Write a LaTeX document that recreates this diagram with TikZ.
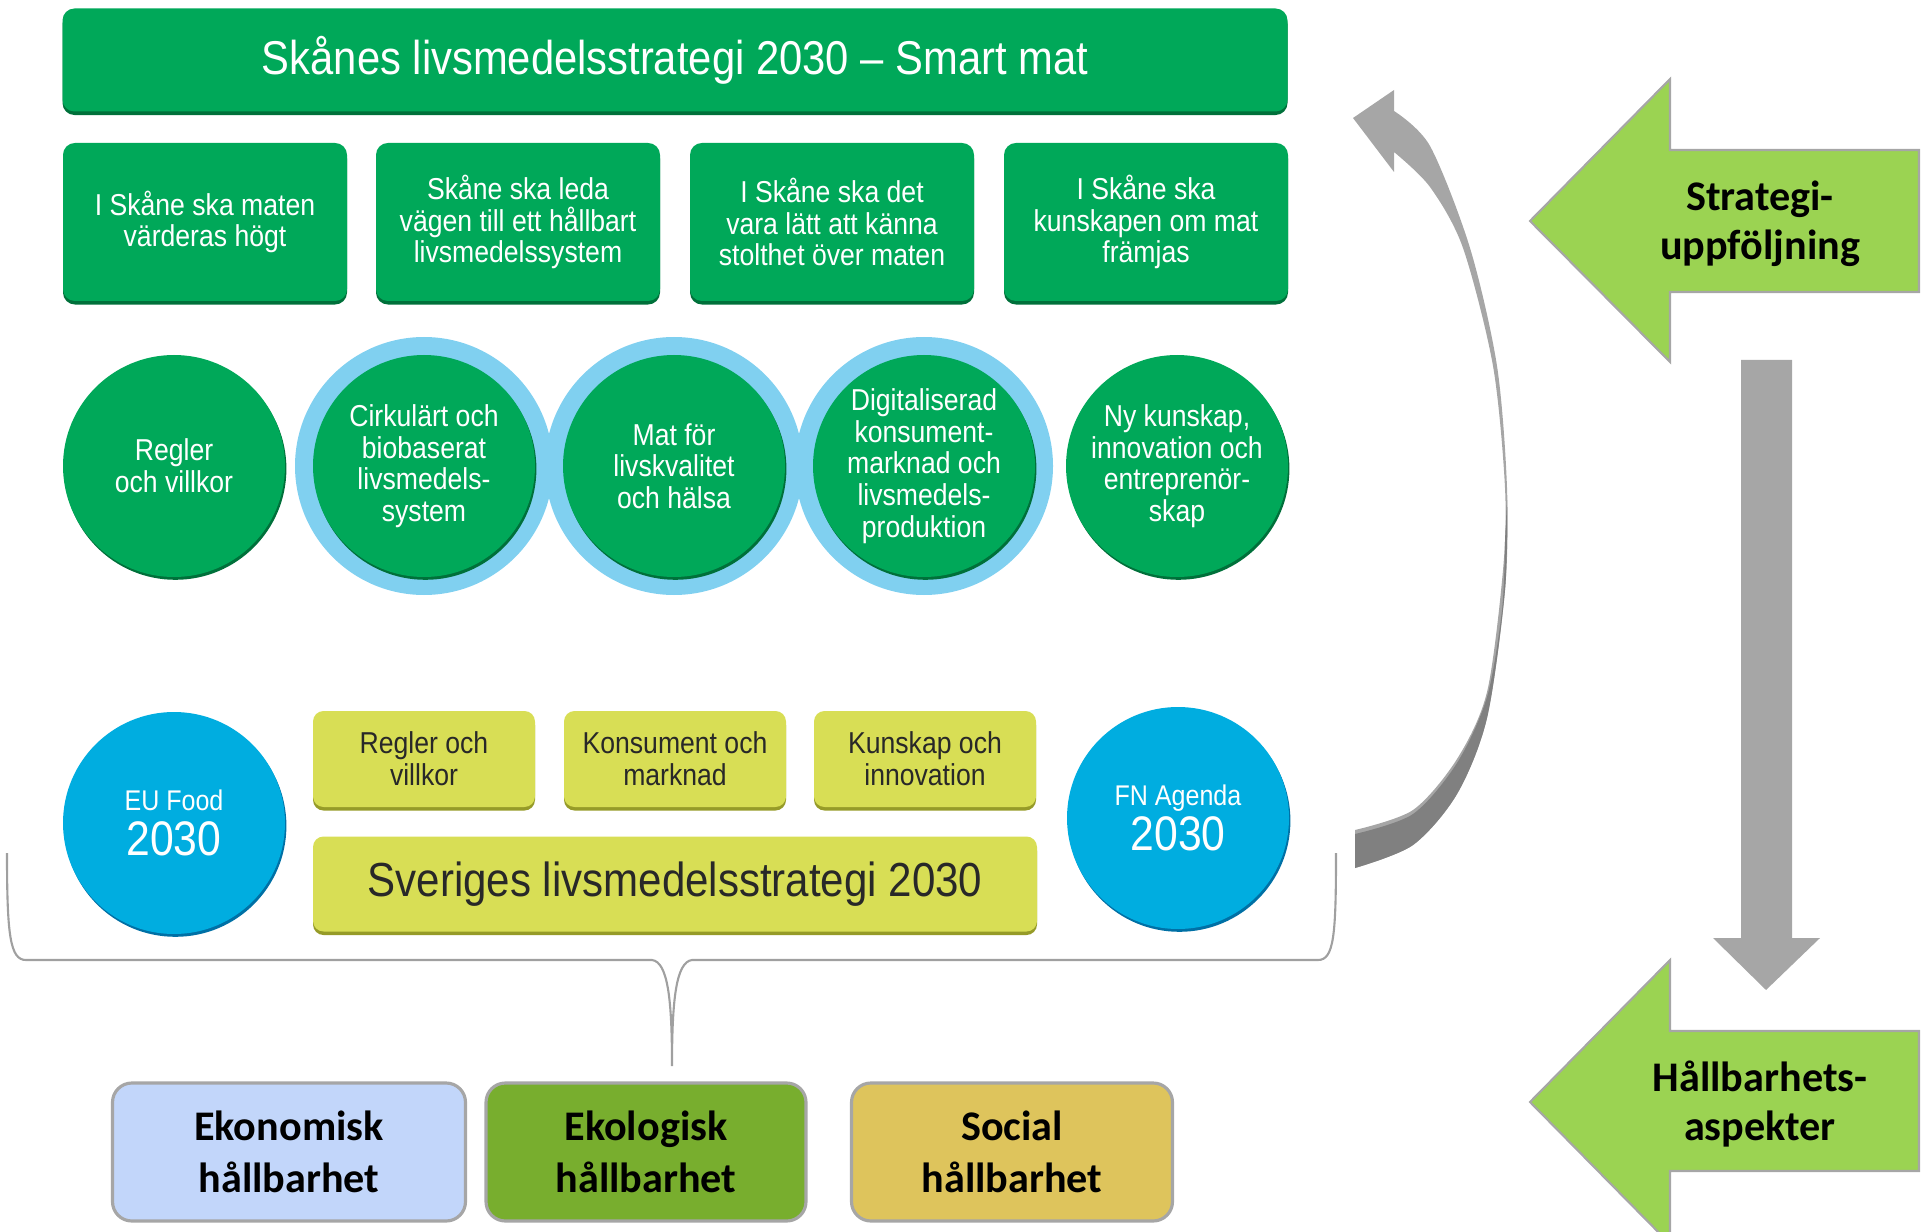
\documentclass[tikz,border=0pt]{standalone}
\usepackage{fontspec}
\setmainfont{Liberation Sans}
\newfontfamily\cond[FakeStretch=0.88]{Liberation Sans}
\newfontfamily\cali{Carlito}
\usetikzlibrary{shadows}
\definecolor{skgreen}{RGB}{0,168,89}
\definecolor{skgreendark}{RGB}{0,112,58}
\definecolor{ringblue}{RGB}{128,208,240}
\definecolor{eublue}{RGB}{0,173,224}
\definecolor{eubluedark}{RGB}{0,112,165}
\definecolor{sveyellow}{RGB}{216,222,85}
\definecolor{sveyellowdark}{RGB}{150,155,40}
\definecolor{ytext}{RGB}{40,40,40}
\definecolor{arrowgreen}{RGB}{155,211,82}
\definecolor{arrowgray}{RGB}{166,166,166}
\definecolor{arrowdark}{RGB}{128,128,128}
\definecolor{bracegray}{RGB}{160,160,160}
\definecolor{ekoblue}{RGB}{194,214,250}
\definecolor{ekogreen}{RGB}{120,174,46}
\definecolor{socyellow}{RGB}{222,196,92}
\begin{document}
\begin{tikzpicture}[x=0.1mm,y=-0.1mm,
  gbox/.style={fill=skgreen,rounded corners=3.4pt,inner sep=0pt,align=center,text=white,
    font=\cond\fontsize{8.6}{9}\selectfont,
    drop shadow={shadow xshift=0pt,shadow yshift=-1pt,fill=skgreendark,opacity=1}},
  gcirc/.style={circle,fill=skgreen,minimum size=22.2mm,inner sep=0pt,align=center,text=white,
    font=\cond\fontsize{8.6}{9}\selectfont,
    drop shadow={shadow xshift=0.4pt,shadow yshift=-0.8pt,fill=skgreendark,opacity=1}},
  bcirc/.style={circle,fill=eublue,minimum size=22.2mm,inner sep=0pt,align=center,text=white,
    font=\cond\fontsize{8.1}{13}\selectfont,
    drop shadow={shadow xshift=0.4pt,shadow yshift=-0.8pt,fill=eubluedark,opacity=1}},
  ybox/.style={fill=sveyellow,rounded corners=3pt,inner sep=0pt,align=center,text=ytext,
    font=\cond\fontsize{8.6}{9}\selectfont,
    drop shadow={shadow xshift=0pt,shadow yshift=-1pt,fill=sveyellowdark,opacity=1}},
  hbox/.style={draw=arrowgray,line width=0.9pt,rounded corners=5.5pt,minimum height=13.8mm,
    inner sep=0pt,align=center,font=\cali\bfseries\fontsize{12}{14.6}\selectfont},
  blockarrow/.style={fill=arrowgreen,draw=arrowgray,line width=0.6pt},
  arrowtext/.style={align=center,font=\cali\bfseries\fontsize{12}{14}\selectfont}]
\useasboundingbox (0,0) rectangle (1921,1232);

\node[gbox,minimum width=122.5mm,minimum height=10.3mm,font=\cond\fontsize{13.5}{16}\selectfont] (title) at (675,60) {Skånes livsmedelsstrategi 2030 – Smart mat};

\foreach \x/\name/\txt in {205/mal1/{I Skåne ska maten\\värderas högt},518/mal2/{Skåne ska leda\\vägen till ett hållbart\\livsmedelssystem},832/mal3/{I Skåne ska det\\vara lätt att känna\\stolthet över maten},1146/mal4/{I Skåne ska\\kunskapen om mat\\främjas}}
{
    \node[gbox,minimum width=28.4mm,minimum height=15.8mm] (\name) at (\x,222) {\txt};
}

\foreach \x in {424,674,924}
{
    \fill[ringblue] (\x,466) circle[radius=12.9mm];
}
\foreach \x/\name/\txt in {174/omr1/{Regler\\och villkor},424/omr2/{Cirkulärt och\\biobaserat\\livsmedels-\\system},674/omr3/{Mat för\\livskvalitet\\och hälsa},924/omr4/{Digitaliserad\\konsument-\\marknad och\\livsmedels-\\produktion},1177/omr5/{Ny kunskap,\\innovation och\\entreprenör-\\skap}}
{
    \node[gcirc] (\name) at (\x,466) {\txt};
}

\node[bcirc] (eufood) at (174,823) {EU Food\\{\fontsize{13.8}{13}\selectfont 2030}};
\node[bcirc] (fnagenda) at (1178,818) {FN Agenda\\{\fontsize{13.8}{13}\selectfont 2030}};
\foreach \x/\name/\txt in {424/nat1/{Regler och\\villkor},675/nat2/{Konsument och\\marknad},925/nat3/{Kunskap och\\innovation}}
{
    \node[ybox,minimum width=22.2mm,minimum height=9.6mm] (\name) at (\x,759) {\txt};
}
\node[ybox,minimum width=72.4mm,minimum height=9.5mm,font=\cond\fontsize{13.6}{16}\selectfont] (sverige) at (675,884) {Sveriges livsmedelsstrategi 2030};

\coordinate (bracetip) at (672,1066);
\draw[bracegray,line width=0.6pt] (7,853) .. controls (7,935) and (10,960) .. (26,960) -- (652,960) .. controls (668,962) and (672,1000) .. (bracetip) .. controls (672,1000) and (676,962) .. (692,960) -- (1318,960) .. controls (1334,960) and (1336,935) .. (1336,853);

\foreach \x/\w/\name/\col/\txt in {289/35.3/ekonomisk/ekoblue/{Ekonomisk\\hållbarhet},646/32/ekologisk/ekogreen/{Ekologisk\\hållbarhet},1012/32.1/social/socyellow/{Social\\hållbarhet}}
{
    \node[hbox,fill=\col,minimum width=\w mm] (\name) at (\x,1152) {\txt};
}

\fill[arrowgray] plot[smooth] coordinates {(1355,868) (1413,845) (1457,794) (1487,718) (1505,590) (1507,488) (1497,366) (1470,248) (1430,146) (1394,111)} -- (1394,90) -- (1353,118) -- (1394,172) -- plot[smooth] coordinates {(1394,152) (1430,187) (1463,248) (1493,366) (1505,488) (1503,570) (1487,692) (1457,759) (1413,810) (1355,830)} -- cycle;
\fill[arrowdark] plot[smooth] coordinates {(1507,500) (1505,590) (1487,718) (1457,794) (1413,845) (1355,868)} -- plot[smooth] coordinates {(1355,834) (1413,814) (1457,763) (1487,697) (1502,610) (1505,540)} -- cycle;

\draw[blockarrow] (1530,221) -- (1670,79) -- (1670,150) -- (1919,150) -- (1919,292) -- (1670,292) -- (1670,362) -- cycle;
\node[arrowtext] (strategi) at (1760,224) {Strategi-\\uppföljning};
\fill[arrowgray] (1741,360) -- (1792,360) -- (1792,938) -- (1820,938) -- (1766,990) -- (1713,938) -- (1741,938) -- cycle;
\draw[blockarrow] (1530,1102) -- (1670,960) -- (1670,1031) -- (1919,1031) -- (1919,1171) -- (1670,1171) -- (1670,1244) -- cycle;
\node[arrowtext] (hallbarhet) at (1760,1104) {Hållbarhets-\\aspekter};

\end{tikzpicture}
\end{document}
